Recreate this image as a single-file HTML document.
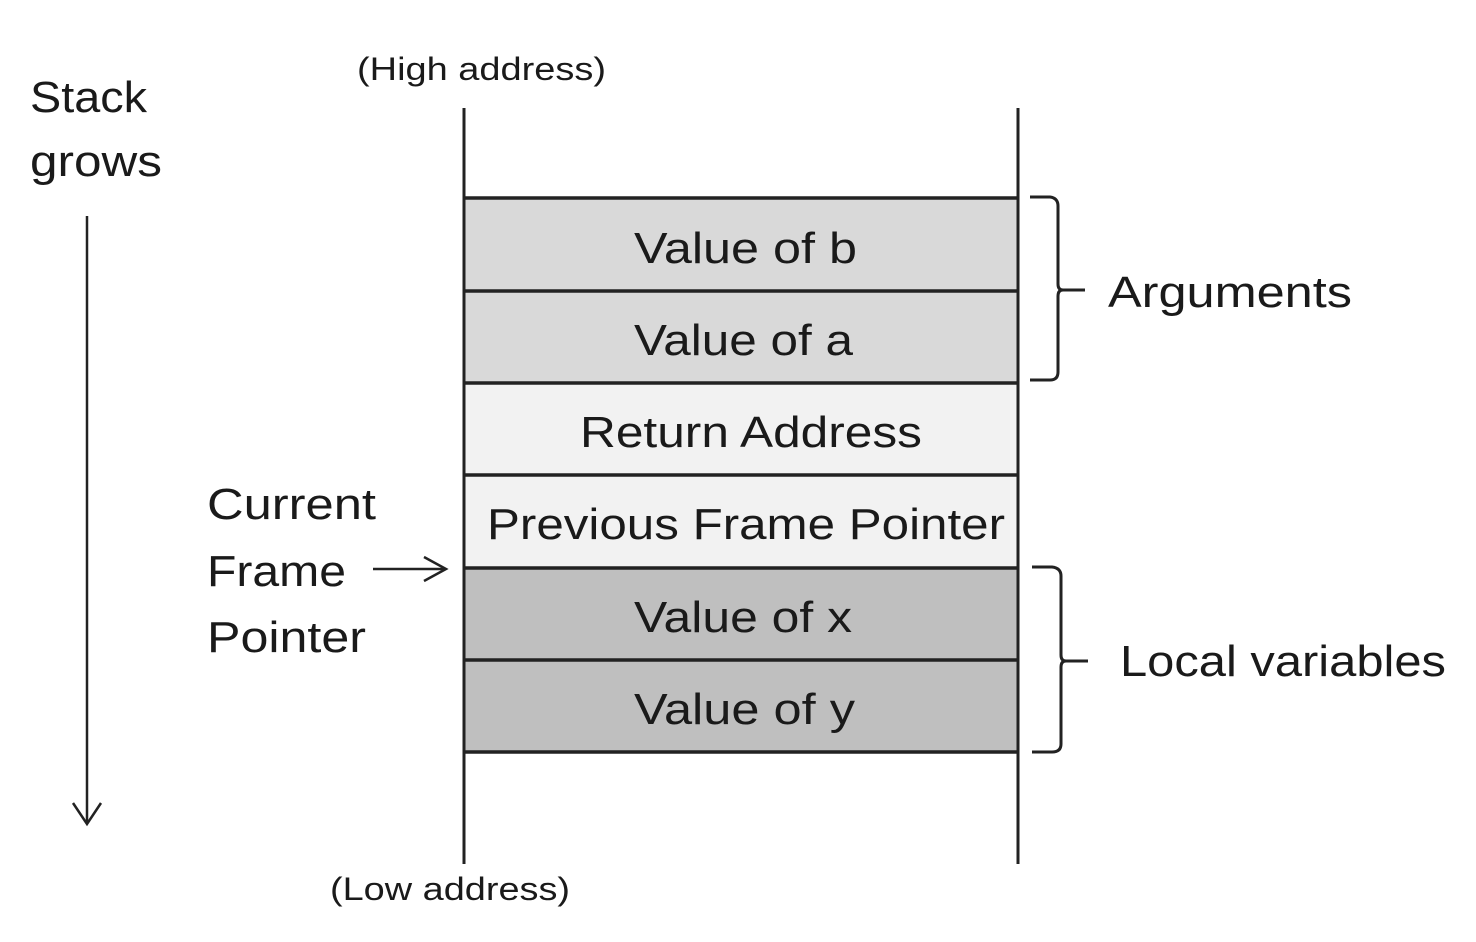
<!DOCTYPE html>
<html><head><meta charset="utf-8"><style>
html,body{margin:0;padding:0;background:#fff;}
svg{display:block;}
text{font-family:"Liberation Sans",sans-serif;fill:#1a1a1a;}
</style></head><body>
<svg width="1476" height="942" viewBox="0 0 1476 942" xmlns="http://www.w3.org/2000/svg">
<rect x="0" y="0" width="1476" height="942" fill="#fff"/>
<!-- cells -->
<rect x="464" y="198" width="554" height="93" fill="#d9d9d9"/>
<rect x="464" y="291" width="554" height="92" fill="#d9d9d9"/>
<rect x="464" y="383" width="554" height="92" fill="#f2f2f2"/>
<rect x="464" y="475" width="554" height="93" fill="#f2f2f2"/>
<rect x="464" y="568" width="554" height="92" fill="#bfbfbf"/>
<rect x="464" y="660" width="554" height="92" fill="#bfbfbf"/>
<g stroke="#222" stroke-width="3.5">
<line x1="464" y1="198" x2="1018" y2="198"/>
<line x1="464" y1="291" x2="1018" y2="291"/>
<line x1="464" y1="383" x2="1018" y2="383"/>
<line x1="464" y1="475" x2="1018" y2="475"/>
<line x1="464" y1="568" x2="1018" y2="568"/>
<line x1="464" y1="660" x2="1018" y2="660"/>
<line x1="464" y1="752" x2="1018" y2="752"/>
</g>
<g stroke="#222" stroke-width="3">
<line x1="464" y1="108" x2="464" y2="864"/>
<line x1="1018" y1="108" x2="1018" y2="864"/>
</g>
<!-- braces -->
<g fill="none" stroke="#222" stroke-width="3">
<path d="M1030,197 L1050,197 Q1058,198 1058,206 L1058,284 Q1058,290 1063,290 L1085,290 M1063,290 Q1058,290 1058,296 L1058,372 Q1058,380 1050,380 L1030,380"/>
<path d="M1032,567 L1052,567 Q1061,568 1061,576 L1061,655 Q1061,661 1066,661 L1088,661 M1066,661 Q1061,661 1061,667 L1061,744 Q1061,752 1052,752 L1032,752"/>
</g>
<!-- arrows -->
<g fill="none" stroke="#222" stroke-width="2.5">
<line x1="87" y1="216" x2="87" y2="824"/>
<polyline points="73,803 87,824 101,803"/>
<line x1="373" y1="569" x2="445" y2="569"/>
<polyline points="424,557 446,569 424,581"/>
</g>
<!-- cell text -->
<g font-size="44">
<text x="634" y="263" textLength="223" lengthAdjust="spacingAndGlyphs">Value of b</text>
<text x="634" y="355" textLength="219" lengthAdjust="spacingAndGlyphs">Value of a</text>
<text x="580" y="447" textLength="342" lengthAdjust="spacingAndGlyphs">Return Address</text>
<text x="487" y="539" textLength="518" lengthAdjust="spacingAndGlyphs">Previous Frame Pointer</text>
<text x="634" y="632" textLength="218" lengthAdjust="spacingAndGlyphs">Value of x</text>
<text x="634" y="724" textLength="221" lengthAdjust="spacingAndGlyphs">Value of y</text>
<text x="1108" y="307" textLength="244" lengthAdjust="spacingAndGlyphs">Arguments</text>
<text x="1120" y="676" textLength="326" lengthAdjust="spacingAndGlyphs">Local variables</text>
<text x="30" y="112" textLength="117" lengthAdjust="spacingAndGlyphs">Stack</text>
<text x="30" y="176" textLength="132" lengthAdjust="spacingAndGlyphs">grows</text>
<text x="207" y="519" textLength="169" lengthAdjust="spacingAndGlyphs">Current</text>
<text x="207" y="586" textLength="139" lengthAdjust="spacingAndGlyphs">Frame</text>
<text x="207" y="652" textLength="159" lengthAdjust="spacingAndGlyphs">Pointer</text>
</g>
<g font-size="32">
<text x="357" y="80" textLength="249" lengthAdjust="spacingAndGlyphs">(High address)</text>
<text x="330" y="900" textLength="240" lengthAdjust="spacingAndGlyphs">(Low address)</text>
</g>
</svg>
</body></html>
